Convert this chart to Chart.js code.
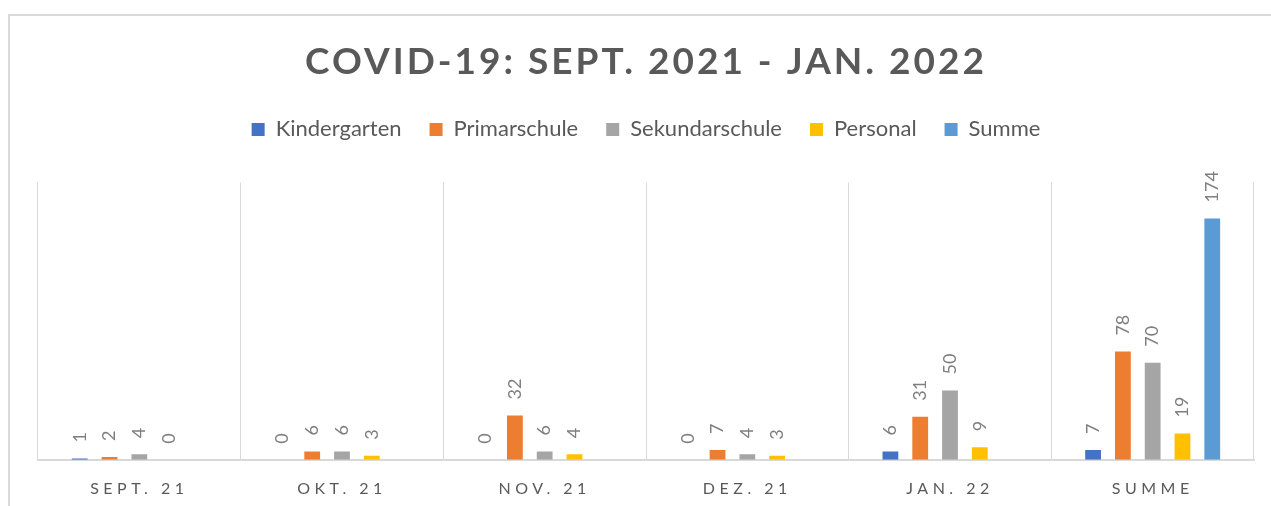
<!DOCTYPE html>
<html lang="de">
<head>
    <meta charset="UTF-8" />
    <title>COVID-19: Sept. 2021 - Jan. 2022</title>
    <script src="https://cdn.jsdelivr.net/npm/chart.js"></script>
    <style>
        body { margin: 0; background: #fff; overflow: hidden; }
        .rahmen { position: absolute; left: 8px; top: 14px; width: 1300px; height: 600px; border: 2px solid #d9d9d9; }
        .chart { position: absolute; left: 0; top: 0; width: 1271px; height: 506px; }
    </style>
</head>
<body>
    <div class="rahmen"></div>
    <div class="chart">
        <canvas id="covidChart"></canvas>
    </div>

    <script>
        // Werte aus der Tabelle
        const monate = ['SEPT. 21', 'OKT. 21', 'NOV. 21', 'DEZ. 21', 'JAN. 22', 'SUMME'];
        const kindergarten = [1, 0, 0, 0, 6, 7];
        const primarschule = [2, 6, 32, 7, 31, 78];
        const sekundarschule = [4, 6, 6, 4, 50, 70];
        const personal = [0, 3, 4, 3, 9, 19];
        const summe = [null, null, null, null, null, 174];

        const grau = '#595959';

        // Buchstabenabstand fuer Titel und Achsenbeschriftung, mehr Platz unter der Legende
        const abstand = {
            id: 'abstand',
            beforeLayout(chart) {
                const lg = chart.legend;
                if (lg && !lg._hoeher) {
                    const origFit = lg.fit;
                    lg.fit = function () {
                        origFit.call(this);
                        this.height += 32;
                    };
                    lg._hoeher = true;
                }
            },
            beforeDraw(chart) {
                const sx = chart.scales.x;
                if (sx && !sx._gesperrt) {
                    const orig = sx.drawLabels;
                    sx.drawLabels = function (area) {
                        this.ctx.save();
                        this.ctx.letterSpacing = '4.5px';
                        orig.call(this, area);
                        this.ctx.restore();
                    };
                    sx._gesperrt = true;
                }
                const tb = chart.titleBlock;
                if (tb && !tb._gesperrt) {
                    const origT = tb.draw;
                    tb.draw = function () {
                        this.ctx.save();
                        this.ctx.letterSpacing = '3px';
                        origT.apply(this, arguments);
                        this.ctx.restore();
                    };
                    tb._gesperrt = true;
                }
            }
        };

        // Werte senkrecht ueber den Balken
        const werte = {
            id: 'werte',
            afterDatasetsDraw(chart) {
                const ctx = chart.ctx;
                ctx.save();
                ctx.font = '18px Lato';
                ctx.fillStyle = '#7f7f7f';
                ctx.textAlign = 'left';
                ctx.textBaseline = 'middle';
                chart.data.datasets.forEach((ds, i) => {
                    chart.getDatasetMeta(i).data.forEach((bar, j) => {
                        const v = ds.data[j];
                        if (v === null || v === undefined) return;
                        ctx.save();
                        ctx.translate(bar.x, bar.y - 16);
                        ctx.rotate(-Math.PI / 2);
                        ctx.fillText(String(v), 0, 0);
                        ctx.restore();
                    });
                });
                ctx.restore();
            }
        };

        const ctx = document.getElementById('covidChart').getContext('2d');

        const covidChart = new Chart(ctx, {
            type: 'bar',
            data: {
                labels: monate,
                datasets: [
                    { label: 'Kindergarten', data: kindergarten, backgroundColor: '#4472C4' },
                    { label: 'Primarschule', data: primarschule, backgroundColor: '#ED7D31' },
                    { label: 'Sekundarschule', data: sekundarschule, backgroundColor: '#A5A5A5' },
                    { label: 'Personal', data: personal, backgroundColor: '#FFC000' },
                    { label: 'Summe', data: summe, backgroundColor: '#5B9BD5' }
                ]
            },
            options: {
                responsive: true,
                maintainAspectRatio: false,
                animation: false,
                borderWidth: 0,
                categoryPercentage: 0.735,
                barPercentage: 0.53,
                layout: {
                    padding: { left: 38, right: 17, top: 40, bottom: -11 }
                },
                plugins: {
                    title: {
                        display: true,
                        text: 'COVID-19: SEPT. 2021 - JAN. 2022',
                        color: grau,
                        font: { family: 'Lato', size: 37, weight: 'bold' },
                        padding: { top: 0, bottom: 6 }
                    },
                    legend: {
                        position: 'top',
                        labels: {
                            color: grau,
                            font: { family: 'Lato', size: 22 },
                            boxWidth: 13,
                            boxHeight: 13,
                            padding: 28
                        }
                    },
                    tooltip: { enabled: false }
                },
                scales: {
                    y: {
                        display: false,
                        min: 0,
                        max: 200
                    },
                    x: {
                        grid: {
                            color: '#d9d9d9',
                            lineWidth: 1,
                            drawTicks: false
                        },
                        border: { color: '#d9d9d9', width: 2 },
                        ticks: {
                            color: grau,
                            font: { family: 'Lato', size: 16 },
                            padding: 19
                        }
                    }
                }
            },
            plugins: [abstand, werte]
        });
    </script>
</body>
</html>
